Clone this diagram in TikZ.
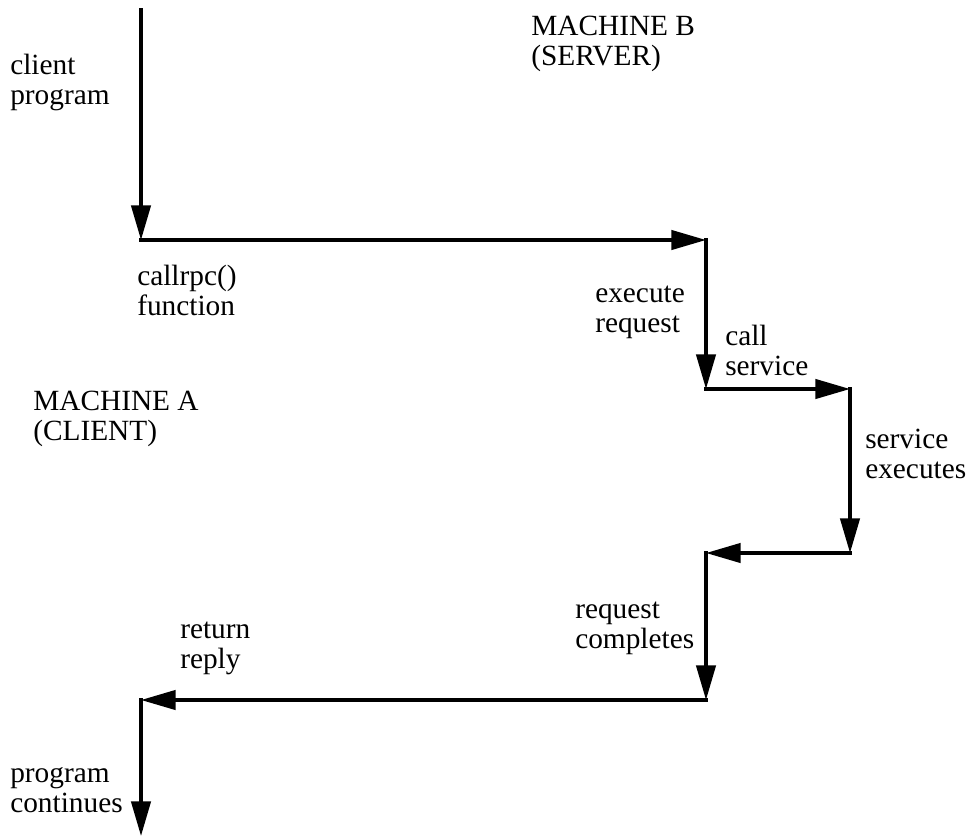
\documentclass[tikz,border=0pt]{standalone}
\usepackage{fontspec}
\setmainfont{Liberation Serif}
\usetikzlibrary{arrows.meta}
\begin{document}
\begin{tikzpicture}[x=0.75pt,y=-0.75pt,
  flow/.style={line width=2.5pt,line cap=rect,line join=miter,-{Triangle[length=26pt,width=14.5pt]}},
  lbl/.style={anchor=base west,align=left,inner sep=0pt,font=\fontsize{22}{22.5}\selectfont}]
\useasboundingbox (0,0) rectangle (967,836);
\coordinate (T0) at (141,10);
\coordinate (A) at (141,240);
\coordinate (B) at (706,240);
\coordinate (C) at (706,389);
\coordinate (D) at (850,389);
\coordinate (E) at (850,553);
\coordinate (F) at (706,553);
\coordinate (G) at (706,700);
\coordinate (H) at (141,700);
\coordinate (Z) at (141,836);
\draw[flow] (T0) -- (A);
\draw[flow] (A) -- (B);
\draw[flow] (B) -- (C);
\draw[flow] (C) -- (D);
\draw[flow] (D) -- (E);
\draw[flow] (E) -- (F);
\draw[flow] (F) -- (G);
\draw[flow] (G) -- (H);
\draw[flow] (H) -- (Z);
% node positions give the baseline of the second (last) line
\node[lbl] (client) at (10,104) {client\\program};
\node[lbl] (mb) at (531,65) {MACHINE B\\(SERVER)};
\node[lbl] (callrpc) at (137,315) {callrpc()\\function};
\node[lbl] (exec) at (595,332) {execute\\request};
\node[lbl] (call) at (725,375) {call\\service};
\node[lbl] (ma) at (33,440) {MACHINE A\\(CLIENT)};
\node[lbl] (svc) at (865,478) {service\\executes};
\node[lbl] (req) at (575,648) {request\\completes};
\node[lbl] (ret) at (180,668) {return\\reply};
\node[lbl] (prog) at (10,812) {program\\continues};
\end{tikzpicture}
\end{document}
